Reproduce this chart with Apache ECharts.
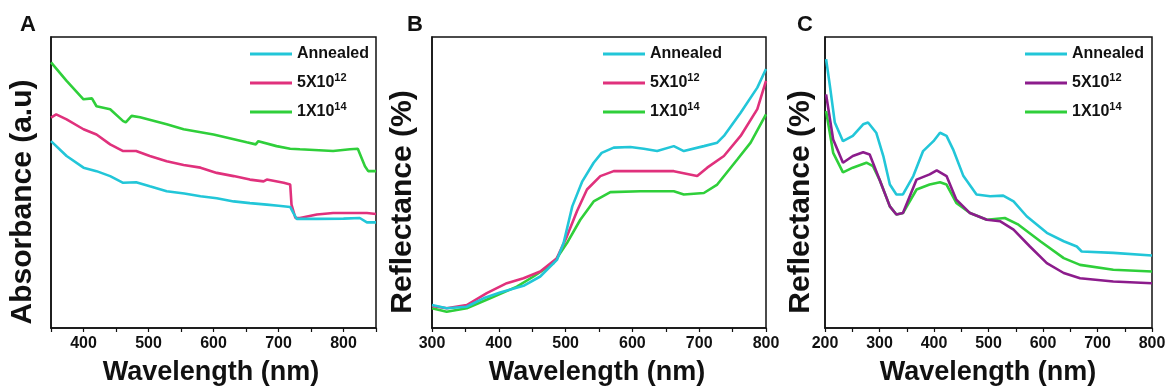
<!DOCTYPE html>
<html>
<head>
<meta charset="utf-8">
<script src="https://cdn.jsdelivr.net/npm/echarts@6/dist/echarts.min.js"></script>
<style>html,body{margin:0;padding:0;background:#fff}#chart{width:1172px;height:392px}</style>
</head>
<body>
<div id="chart"></div>
<script>
// ---- Panel A: Absorbance (a.u.) vs wavelength ----
const aAnnealed = [[350,64.2],[374,59.1],[400,55.1],[420,53.9],[441,52.2],[461,49.9],[481,50.1],[502,48.7],[528,47.0],[555,46.2],[580,45.3],[605,44.6],[631,43.5],[656,42.9],[682,42.4],[700,42.0],[718,41.6],[723,39.5],[728,37.5],[759,37.5],[800,37.6],[825,37.8],[836,36.3],[850,36.3]];
const a5e12 = [[350,72.3],[358,73.4],[374,71.7],[400,68.3],[420,66.5],[441,63.1],[461,60.8],[481,60.8],[502,59.1],[528,57.3],[554,56.0],[580,55.1],[605,53.3],[631,52.2],[656,51.0],[677,50.4],[682,51.0],[708,49.9],[718,49.3],[720,42.4],[726,37.8],[733,37.8],[759,39.0],[784,39.5],[836,39.5],[850,39.2]];
const a1e14 = [[350,91.3],[374,84.9],[400,78.6],[413,78.9],[420,76.2],[441,75.2],[461,71.1],[465,70.7],[474,72.9],[487,72.4],[528,70.0],[554,68.3],[600,66.5],[651,63.8],[665,63.1],[669,64.2],[697,62.5],[718,61.6],[733,61.4],[784,60.8],[810,61.4],[822,61.6],[833,55.6],[838,53.9],[850,53.9]];

// ---- Panel B: Reflectance (%) ----
const bAnnealed = [[300,7.9],[322,6.8],[352,7.3],[377,10.2],[402,12.2],[437,14.5],[462,17.7],[487,23.4],[497,29.2],[510,41.8],[525,50.4],[542,56.8],[554,60.2],[572,62.0],[597,62.2],[617,61.6],[637,60.8],[662,62.5],[677,60.8],[707,62.5],[727,63.7],[737,66.0],[762,74.0],[787,82.6],[800,89.0]];
const b5e12 = [[300,7.6],[322,6.8],[352,7.9],[382,12.0],[412,15.4],[437,17.1],[462,19.4],[487,24.0],[502,31.5],[517,40.1],[532,47.6],[552,52.2],[572,53.9],[612,53.9],[662,53.9],[697,52.2],[712,55.1],[737,59.1],[762,66.0],[787,75.2],[800,84.9]];
const b1e14 = [[300,6.8],[322,5.6],[352,6.8],[387,10.2],[427,14.2],[452,17.7],[482,22.3],[502,29.2],[522,37.2],[542,43.5],[567,46.7],[612,47.0],[662,47.0],[677,45.9],[707,46.4],[727,49.3],[757,57.9],[777,63.7],[800,73.4]];

// ---- Panel C: Reflectance (%) ----
const cAnnealed = [[202,92.4],[209,83.2],[218,70.6],[233,64.2],[251,66.0],[270,70.0],[279,70.6],[294,67.1],[307,59.1],[319,49.3],[331,45.9],[343,45.9],[362,52.2],[380,60.8],[399,64.2],[411,67.1],[423,66.0],[435,61.4],[454,52.2],[478,45.9],[503,45.3],[527,45.5],[546,43.5],[570,38.4],[607,32.7],[638,29.8],[662,28.0],[665,28.6],[671,26.3],[729,25.8],[800,24.9]];
const c5e12 = [[202,80.3],[215,64.8],[233,56.8],[251,59.1],[270,60.4],[282,59.6],[300,51.0],[319,41.8],[331,39.0],[343,39.5],[368,51.0],[392,52.8],[405,54.2],[423,52.2],[441,44.1],[466,39.5],[497,37.2],[521,36.7],[546,33.8],[576,28.0],[607,22.3],[638,18.9],[668,17.1],[729,16.0],[800,15.4]];
const c1e14 = [[202,74.6],[215,60.2],[233,53.5],[251,55.1],[276,56.8],[288,55.6],[300,51.0],[319,41.8],[331,39.0],[343,39.5],[368,47.6],[392,49.3],[411,50.1],[423,49.3],[441,43.0],[466,39.5],[497,37.2],[530,37.8],[555,35.5],[595,29.8],[638,24.0],[668,21.7],[729,20.0],[800,19.4]];

const legendNames = ['Annealed', '5X10^12', '1X10^14'];
const panelLetters = ['A', 'B', 'C'];
const yTitles = ['Absorbance (a.u)', 'Reflectance (%)', 'Reflectance (%)'];
const xTitle = 'Wavelength (nm)';
const xRanges = [[350, 850], [300, 800], [200, 800]];

const CYAN = '#22c6d8', PINK = '#e0317c', GREEN = '#2fcf3a', PURPLE = '#8c1c8c';
const FONT = '"Liberation Sans", Arial, sans-serif';

const grids = [
  {left: 51, top: 37, width: 325, height: 291},
  {left: 432, top: 37, width: 334, height: 291},
  {left: 825, top: 37, width: 327, height: 291}
];
const legendPos = [{left: 250, top: 46}, {left: 603, top: 46}, {left: 1025, top: 46}];
const panelSeries = [
  [[aAnnealed, CYAN], [a5e12, PINK], [a1e14, GREEN]],
  [[bAnnealed, CYAN], [b5e12, PINK], [b1e14, GREEN]],
  [[cAnnealed, CYAN], [c5e12, PURPLE], [c1e14, GREEN]]
];

const chart = echarts.init(document.getElementById('chart'), null, {renderer: 'canvas'});
const option = {
  backgroundColor: '#fff',
  animation: false,
  grid: grids.map(g => Object.assign({show: true, borderColor: '#111', borderWidth: 1.5, backgroundColor: 'transparent'}, g)),
  xAxis: xRanges.map((r, i) => ({
    type: 'value', gridIndex: i, min: r[0], max: r[1], interval: 50,
    axisLine: {show: true, onZero: false, lineStyle: {color: '#111', width: 1.5}},
    axisTick: {show: true, inside: false, length: 4, lineStyle: {color: '#111', width: 1.2}},
    splitLine: {show: false},
    axisLabel: {
      margin: 8, color: '#111', fontFamily: FONT, fontWeight: 'bold', fontSize: 16,
      formatter: v => (v % 100 === 0 ? String(v) : ''),
      showMinLabel: true, showMaxLabel: true
    }
  })),
  yAxis: xRanges.map((r, i) => ({
    type: 'value', gridIndex: i, min: 0, max: 100,
    axisLine: {show: true, lineStyle: {color: '#111', width: 1.5}},
    axisTick: {show: false}, axisLabel: {show: false}, splitLine: {show: false}
  })),
  legend: legendPos.map((p, i) => ({
    orient: 'vertical', left: p.left, top: p.top, padding: 0,
    itemWidth: 42, itemHeight: 3, itemGap: 10.5, icon: 'rect',
    data: legendNames.map(n => panelLetters[i] + ':' + n),
    formatter: name => {
      const n = name.slice(2);
      return n.replace(/\^(\d+)/, '{sup|$1}').replace(/^([^{]+)/, '{b|$1}');
    },
    textStyle: {
      color: '#111', fontFamily: FONT, fontWeight: 'bold', fontSize: 16,
      rich: {
        b: {fontFamily: FONT, fontWeight: 'bold', fontSize: 16, color: '#111', height: 19},
        sup: {fontFamily: FONT, fontWeight: 'bold', fontSize: 11, color: '#111', padding: [0, 0, 10, 0]}
      }
    }
  })),
  series: [],
  graphic: []
};
panelSeries.forEach((ps, i) => {
  ps.forEach((s, k) => {
    option.series.push({
      type: 'line', name: panelLetters[i] + ':' + legendNames[k],
      xAxisIndex: i, yAxisIndex: i, data: s[0], color: s[1],
      symbol: 'none', smooth: false, lineStyle: {width: 2.6, color: s[1]}, z: 3 - k
    });
  });
});
const letterX = [20, 407, 797];
const yTitleX = [23, 403, 801];
const xTitleX = [211, 597, 988];
panelLetters.forEach((L, i) => {
  option.graphic.push({type: 'text', left: letterX[i], top: 14,
    style: {text: L, font: 'bold 22px ' + FONT, fill: '#111'}});
  option.graphic.push({type: 'text', x: yTitleX[i], y: 202, rotation: Math.PI / 2,
    style: {text: yTitles[i], font: 'bold 30px ' + FONT, fill: '#111', textAlign: 'center', textVerticalAlign: 'middle'}});
  option.graphic.push({type: 'text', x: xTitleX[i], y: 373,
    style: {text: xTitle, font: 'bold 27px ' + FONT, fill: '#111', textAlign: 'center', textVerticalAlign: 'middle'}});
});
chart.setOption(option);
</script>
</body>
</html>
